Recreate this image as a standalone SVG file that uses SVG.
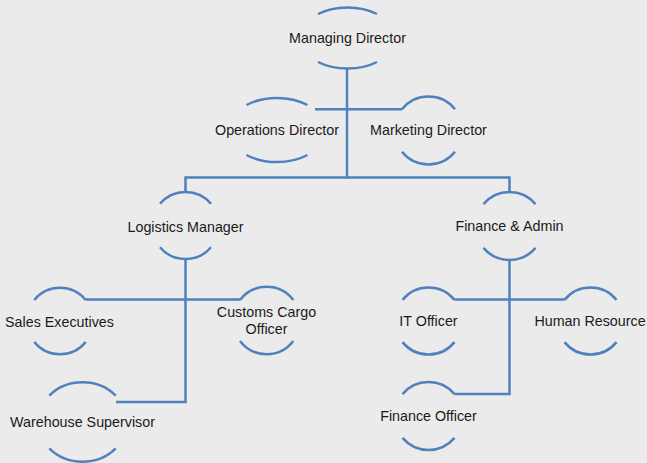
<svg xmlns="http://www.w3.org/2000/svg" width="647" height="463" viewBox="0 0 647 463">
<style>
.arc{fill:none;stroke:#4f81bd;stroke-width:2.5}
.con{fill:none;stroke:#4f81bd;stroke-width:2.5}
text{font-family:"Liberation Sans",Arial,sans-serif;font-size:14.3px;fill:#1a1a1a;text-anchor:middle}
</style>
<rect width="647" height="463" fill="#ebebeb"/>
<g id="connectors">
<path class="con" d="M347 69V178"/>
<path class="con" d="M315 109.3H402"/>
<path class="con" d="M185.5 192V177.5H509.5V192"/>
<path class="con" d="M185.5 259V402H116"/>
<path class="con" d="M85.7 299.5H240"/>
<path class="con" d="M509.5 260V394H454.5"/>
<path class="con" d="M454.5 299.5H564.5"/>
</g>
<g id="managing-director">
<path class="arc" d="M318 14A48 31 0 0 1 377 14"/>
<path class="arc" d="M318 62A48 31 0 0 0 377 62"/>
<text x="347.5" y="43">Managing Director</text>
</g>
<g id="operations-director">
<path class="arc" d="M246.5 105A48.5 32 0 0 1 307.5 105"/>
<path class="arc" d="M246.5 155A48.5 32 0 0 0 307.5 155"/>
<text x="277" y="135">Operations Director</text>
</g>
<g id="marketing-director">
<path class="arc" d="M402 109.2A34 34 0 0 1 455 109.2"/>
<path class="arc" d="M402 151.8A34 34 0 0 0 455 151.8"/>
<text x="428.5" y="135">Marketing Director</text>
</g>
<g id="logistics-manager">
<path class="arc" d="M160 203.8A33.5 33.5 0 0 1 211 203.8"/>
<path class="arc" d="M160 247.2A33.5 33.5 0 0 0 211 247.2"/>
<text x="185.5" y="232">Logistics Manager</text>
</g>
<g id="finance-admin">
<path class="arc" d="M483.5 204.1A34 34 0 0 1 535.5 204.1"/>
<path class="arc" d="M483.5 247.9A34 34 0 0 0 535.5 247.9"/>
<text x="509.5" y="231">Finance &amp; Admin</text>
</g>
<g id="sales-executives">
<path class="arc" d="M34.3 300A33 33 0 0 1 85.7 300"/>
<path class="arc" d="M34.3 342A33 33 0 0 0 85.7 342"/>
<text x="59.5" y="326.5">Sales Executives</text>
</g>
<g id="customs-cargo-officer">
<path class="arc" d="M240 300A33.5 33.5 0 0 1 293.3 300"/>
<path class="arc" d="M240 341A33.5 33.5 0 0 0 293.3 341"/>
<text x="266.5" y="317.3">Customs Cargo</text>
<text x="266.5" y="334.3">Officer</text>
</g>
<g id="it-officer">
<path class="arc" d="M402.5 299.9A33.5 33.5 0 0 1 454.5 299.9"/>
<path class="arc" d="M402.5 342.1A33.5 33.5 0 0 0 454.5 342.1"/>
<text x="428.5" y="326">IT Officer</text>
</g>
<g id="human-resource">
<path class="arc" d="M564.5 299.9A33.5 33.5 0 0 1 616.5 299.9"/>
<path class="arc" d="M564.5 342.1A33.5 33.5 0 0 0 616.5 342.1"/>
<text x="590" y="326">Human Resource</text>
</g>
<g id="finance-officer">
<path class="arc" d="M402.5 394.1A34 34 0 0 1 454.5 394.1"/>
<path class="arc" d="M402.5 437.9A34 34 0 0 0 454.5 437.9"/>
<text x="428.5" y="421">Finance Officer</text>
</g>
<g id="warehouse-supervisor">
<path class="arc" d="M49.3 395.6A44.4 39.7 0 0 1 115.7 395.6"/>
<path class="arc" d="M49.3 448.4A44.4 39.7 0 0 0 115.7 448.4"/>
<text x="82.5" y="427">Warehouse Supervisor</text>
</g>
</svg>
